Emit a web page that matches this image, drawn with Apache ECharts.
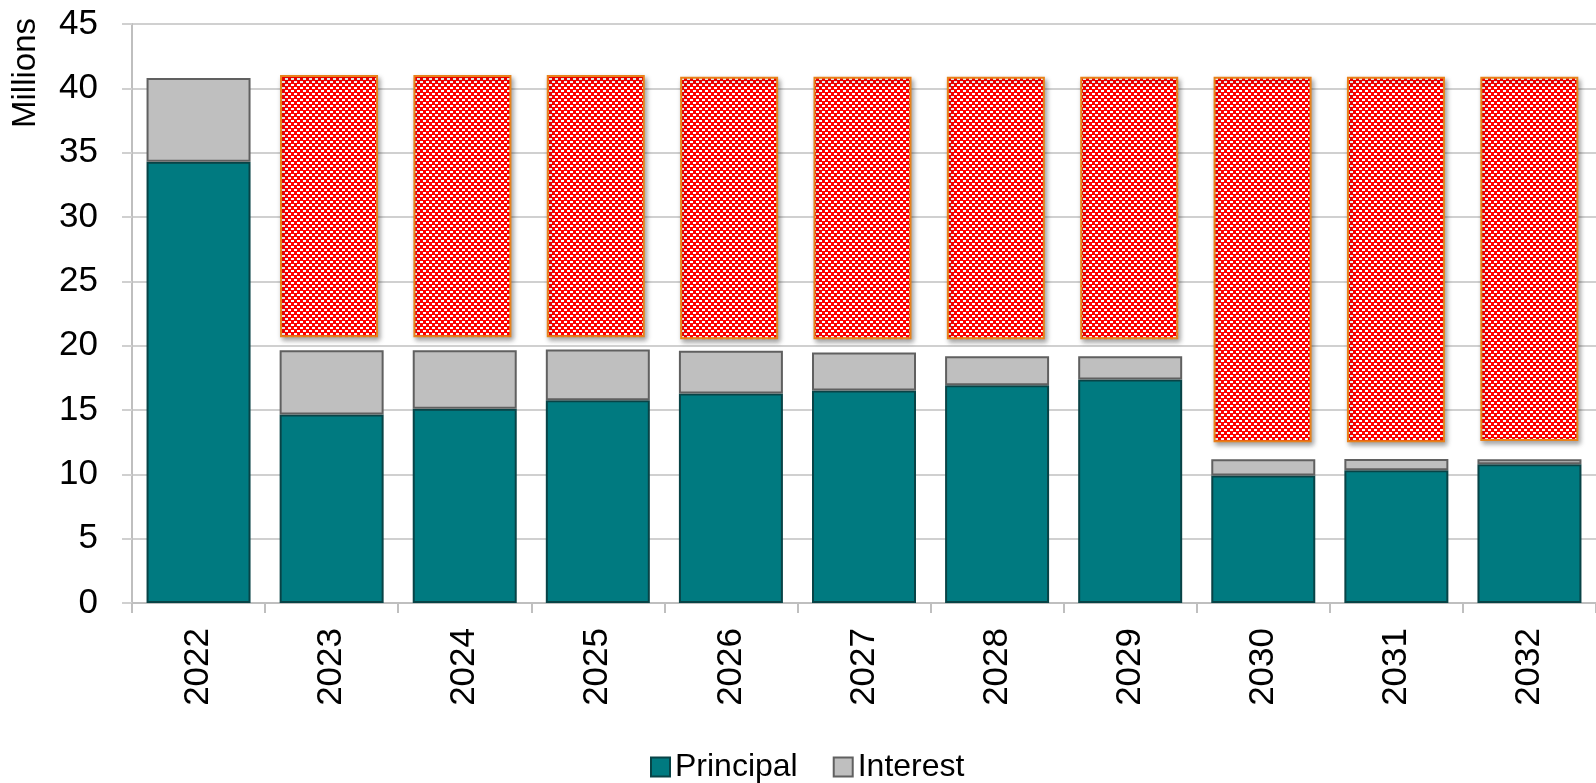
<!DOCTYPE html>
<html>
<head>
<meta charset="utf-8">
<script src="https://cdn.jsdelivr.net/npm/echarts@6/dist/echarts.min.js"></script>
<style>
html,body{margin:0;padding:0;background:#fff;}
#chart{width:1596px;height:783px;}
</style>
</head>
<body>
<div id="chart"></div>
<script>
const years = ['2022','2023','2024','2025','2026','2027','2028','2029','2030','2031','2032'];
const principal = [34.3, 14.65, 15.1, 15.76, 16.28, 16.52, 16.93, 17.37, 9.9, 10.32, 10.78];
const interest = [6.5, 5.0, 4.55, 3.94, 3.32, 2.95, 2.25, 1.81, 1.27, 0.88, 0.39];
const patternBottom = [null, 20.65, 20.65, 20.65, 20.5, 20.5, 20.5, 20.5, 12.5, 12.5, 12.6];
const patternTop = [null, 41.03, 41.03, 41.03, 40.9, 40.9, 40.9, 40.9, 40.9, 40.9, 40.9];
const yTicks = {min: 0, max: 45, interval: 5};

const patternHeight = patternTop.map((t, i) => (t == null ? null : +(t - patternBottom[i]).toFixed(2)));

const pc = document.createElement('canvas');
pc.width = 6; pc.height = 6;
const pctx = pc.getContext('2d');
pctx.fillStyle = '#ff0000'; pctx.fillRect(0, 0, 6, 6);
pctx.fillStyle = '#ffffff'; pctx.fillRect(3, 0, 3, 2); pctx.fillRect(0, 3, 3, 2);

const font = '"Liberation Sans", Arial, sans-serif';
const chart = echarts.init(document.getElementById('chart'));
chart.setOption({
  animation: false,
  backgroundColor: '#fff',
  textStyle: {fontFamily: font},
  grid: [
    {left: 132, top: 24, width: 1474, height: 579, containLabel: false},
    {left: 129, top: 24, width: 1474, height: 579, containLabel: false}
  ],
  legend: {
    data: ['Principal', 'Interest'],
    left: 645, top: 746,
    icon: 'rect', itemWidth: 19, itemHeight: 19, itemGap: 35,
    textStyle: {fontSize: 32, color: '#000', fontFamily: font}
  },
  graphic: [{
    type: 'text', x: 26, y: 73, rotation: Math.PI / 2,
    style: {text: 'Millions', fontSize: 33, fontFamily: font, fill: '#000', textAlign: 'center', textVerticalAlign: 'middle'}
  }],
  xAxis: [
    {
      type: 'category', gridIndex: 0, data: years, boundaryGap: true,
      axisLine: {show: true, lineStyle: {color: '#BFBFBF', width: 2}},
      axisTick: {show: true, length: 10, lineStyle: {color: '#BFBFBF', width: 2}},
      axisLabel: {rotate: 90, margin: 25, fontSize: 35, color: '#000', fontFamily: font}
    },
    {type: 'category', gridIndex: 1, data: years, show: false}
  ],
  yAxis: [
    {
      type: 'value', gridIndex: 0, min: yTicks.min, max: yTicks.max, interval: yTicks.interval,
      axisLine: {show: true, lineStyle: {color: '#BFBFBF', width: 2}},
      axisTick: {show: true, length: 10, lineStyle: {color: '#D0D0D0', width: 2}},
      splitLine: {show: true, lineStyle: {color: '#D0D0D0', width: 2}},
      axisLabel: {margin: 34, fontSize: 35, color: '#000', fontFamily: font}
    },
    {type: 'value', gridIndex: 1, min: yTicks.min, max: yTicks.max, show: false, splitLine: {show: false}}
  ],
  series: [
    {
      name: 'Principal', type: 'bar', stack: 'a', xAxisIndex: 0, yAxisIndex: 0,
      barWidth: 104, data: principal,
      itemStyle: {color: '#007A80', borderColor: '#084346', borderWidth: 2}
    },
    {
      name: 'Interest', type: 'bar', stack: 'a', xAxisIndex: 0, yAxisIndex: 0,
      barWidth: 104, data: interest,
      itemStyle: {color: '#BFBFBF', borderColor: '#606060', borderWidth: 2}
    },
    {
      name: 'base', type: 'bar', stack: 'p', xAxisIndex: 1, yAxisIndex: 1,
      barWidth: 98, data: patternBottom, silent: true,
      itemStyle: {color: 'rgba(0,0,0,0)'}
    },
    {
      name: 'pattern', type: 'bar', stack: 'p', xAxisIndex: 1, yAxisIndex: 1,
      barWidth: 98, data: patternHeight,
      itemStyle: {
        color: {image: pc, repeat: 'repeat'},
        borderColor: '#E8811A', borderWidth: 2,
        shadowBlur: 5, shadowOffsetX: 2, shadowOffsetY: 3, shadowColor: 'rgba(0,0,0,0.35)'
      }
    }
  ]
});
</script>
</body>
</html>
